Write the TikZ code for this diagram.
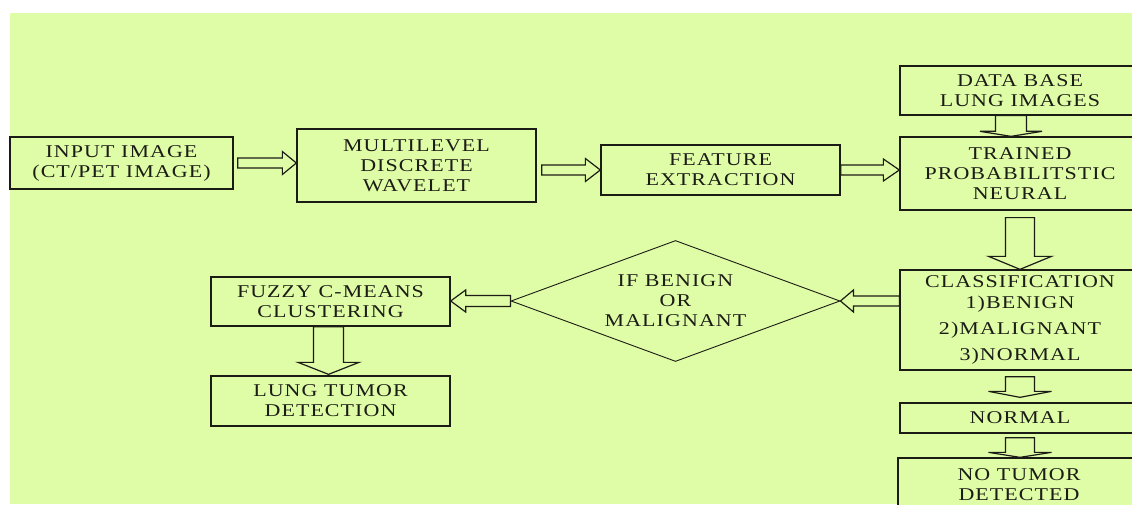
\documentclass[tikz,border=0pt]{standalone}
\usepackage{fontspec}
\setmainfont{Liberation Serif}[FakeStretch=1.22,LetterSpace=6]
\usetikzlibrary{calc,shapes.geometric}

\definecolor{pagegreen}{RGB}{223,252,166}
\definecolor{inkcol}{RGB}{28,28,22}

\tikzset{
  stepbox/.style={draw=inkcol, line width=1.3pt, fill=pagegreen,
    minimum width=239pt, inner sep=0pt, align=center, text=inkcol,
    font=\fontsize{18}{20}\selectfont},
  decision/.style={draw=inkcol, line width=0.9pt, shape=diamond, aspect=2.72,
    minimum width=329pt, minimum height=121pt, inner sep=0pt, align=center,
    text=inkcol, font=\fontsize{18}{20}\selectfont},
  hollowarrow/.style={draw=inkcol, line width=1.2pt, fill=pagegreen, line join=miter},
}

% hollow block arrows: #1 tail, #2 tip, #3 shaft half-width, #4 head half-width, #5 head length
\newcommand\blockright[5]{%
  \draw[hollowarrow] let \p1=(#1), \p2=(#2) in
    (\x1,\y2+#3) -- (\x2-#5,\y2+#3) -- (\x2-#5,\y2+#4) -- (\x2,\y2)
    -- (\x2-#5,\y2-#4) -- (\x2-#5,\y2-#3) -- (\x1,\y2-#3) -- cycle;}
\newcommand\blockleft[5]{%
  \draw[hollowarrow] let \p1=(#1), \p2=(#2) in
    (\x1,\y2+#3) -- (\x2+#5,\y2+#3) -- (\x2+#5,\y2+#4) -- (\x2,\y2)
    -- (\x2+#5,\y2-#4) -- (\x2+#5,\y2-#3) -- (\x1,\y2-#3) -- cycle;}
\newcommand\blockdown[5]{%
  \draw[hollowarrow] let \p1=(#1), \p2=(#2) in
    (\x2-#3,\y1) -- (\x2-#3,\y2+#5) -- (\x2-#4,\y2+#5) -- (\x2,\y2)
    -- (\x2+#4,\y2+#5) -- (\x2+#3,\y2+#5) -- (\x2+#3,\y1) -- cycle;}

\begin{document}
\begin{tikzpicture}[x=1pt, y=-1pt]
  \useasboundingbox (0,0) rectangle (1132,505);
  \clip (0,0) rectangle (1132,505);
  \fill[white] (0,0) rectangle (1132,505);
  \fill[pagegreen] (10,13) rectangle (1132,504);

  % process boxes
  \node[stepbox, minimum width=223pt, minimum height=52pt] (input) at (121.5,163)
    {INPUT IMAGE\\(CT/PET IMAGE)};
  \node[stepbox, minimum height=73pt] (multi) at (416.5,165.5)
    {MULTILEVEL\\DISCRETE\\WAVELET};
  \node[stepbox, minimum height=50pt] (feat) at (720.5,170)
    {FEATURE\\EXTRACTION};
  \node[stepbox, minimum width=240pt, minimum height=49pt] (db) at (1020,90.5)
    {DATA BASE\\LUNG IMAGES};
  \node[stepbox, minimum width=240pt, minimum height=73pt] (trained) at (1020,173.5)
    {TRAINED\\PROBABILITSTIC\\NEURAL};
  \node[stepbox, minimum width=240pt, minimum height=100pt] (class) at (1020,320)
    {CLASSIFICATION\\[1pt]1)BENIGN\\[6pt]2)MALIGNANT\\[6pt]3)NORMAL};
  \node[stepbox, minimum width=240pt, minimum height=30pt] (normal) at (1020,418)
    {NORMAL};
  \node[stepbox, minimum width=242pt, minimum height=54pt] (notumor) at (1019,485)
    {NO TUMOR\\DETECTED};
  \node[decision] (dia) at (675.5,301) {IF BENIGN\\OR\\MALIGNANT};
  \node[stepbox, minimum height=49pt] (fuzzy) at (330.5,301.5)
    {FUZZY C-MEANS\\CLUSTERING};
  \node[stepbox, minimum height=50pt] (lung) at (330.5,401)
    {LUNG TUMOR\\DETECTION};

  % connectors
  \blockright{$(input.east)+(4,0)$}{multi.west |- input.east}{5pt}{11.5pt}{14pt}
  \blockright{$(multi.east |- feat.west)+(5,0)$}{feat.west}{5pt}{11.5pt}{15pt}
  \blockright{feat.east}{trained.west |- feat.east}{5pt}{11pt}{16pt}
  \blockdown{$(db.south)+(-9,0)$}{$(trained.north)+(-9,0)$}{15.5pt}{31pt}{5pt}
  \blockdown{$(trained.south)+(0,7)$}{class.north}{14.5pt}{31.5pt}{13pt}
  \blockleft{class.west |- dia.east}{dia.east}{5pt}{11pt}{13pt}
  \blockleft{dia.west}{fuzzy.east |- dia.west}{5.5pt}{11pt}{15pt}
  \blockdown{$(fuzzy.south)+(-2,0)$}{$(lung.north)+(-2,-1)$}{15pt}{30.5pt}{12pt}
  \blockdown{$(class.south)+(0,6)$}{$(normal.north)+(0,-5)$}{14.5pt}{31.5pt}{6pt}
  \blockdown{$(normal.south)+(0,4)$}{normal.south |- notumor.north}{14.5pt}{31.5pt}{5pt}
\end{tikzpicture}
\end{document}
